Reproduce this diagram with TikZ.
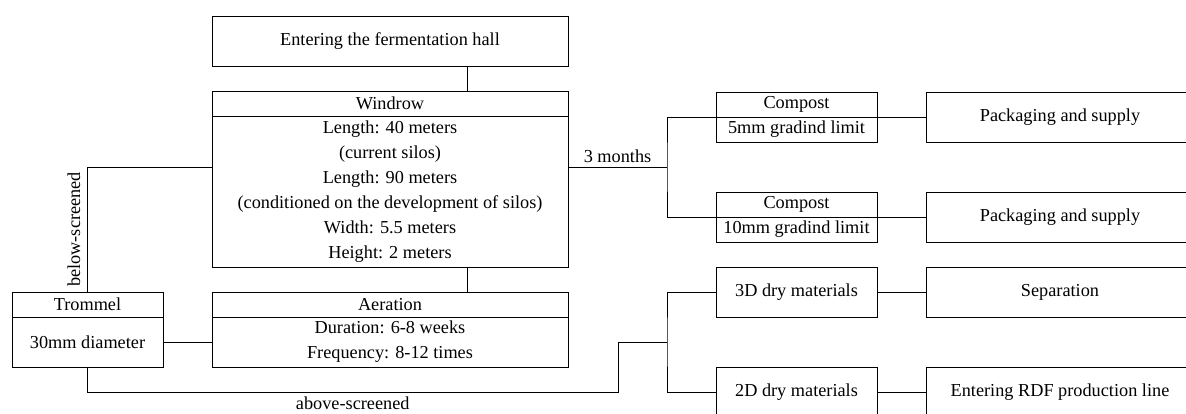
\documentclass[tikz,border=0pt]{standalone}
\usepackage{fontspec}
\setmainfont{Liberation Serif}
\usepackage{tikz}

\begin{document}
\begin{tikzpicture}[x=0.75pt,y=-0.75pt,line width=0.7pt,
        box/.style={draw,inner sep=0pt,outer sep=0pt,align=center,font=\fontsize{13.7}{18.75}\selectfont},
        wide/.style={box,minimum width=267pt},
        mid/.style={box,minimum width=201pt},
        slim/.style={box,minimum width=120.75pt},
        lbl/.style={font=\fontsize{13.7}{18.75}\selectfont,inner sep=3pt}]
        \clip (0,0) rectangle (1186,414); % page = figure size
        % left part
        \node[wide,minimum height=37.5pt] (enter) at (390,41) {Entering the fermentation hall};
        \node[wide,minimum height=18.75pt] (whead) at (390,103.5) {Windrow};
        \node[wide,minimum height=113.25pt] (wbody) at (390,191.5) {Length: 40 meters\\(current silos)\\Length: 90 meters\\(conditioned on the development of silos)\\Width: 5.5 meters\\Height: 2 meters};
        \node[wide,minimum height=18.75pt] (ahead) at (390,304.5) {Aeration};
        \node[wide,minimum height=37.5pt] (abody) at (390,342) {Duration: 6-8 weeks\\Frequency: 8-12 times};
        \node[box,minimum width=113.25pt,minimum height=18.75pt] (thead) at (87.5,304.5) {Trommel};
        \node[box,minimum width=113.25pt,minimum height=37.5pt] (tbody) at (87.5,342) {30mm diameter};
        % right part
        \node[slim,minimum height=18.75pt] (c1head) at (796.5,104.5) {Compost};
        \node[slim,minimum height=18.75pt] (c1body) at (796.5,129.5) {5mm gradind limit};
        \node[slim,minimum height=18.75pt] (c2head) at (796.5,204.5) {Compost};
        \node[slim,minimum height=18.75pt] (c2body) at (796.5,229.5) {10mm gradind limit};
        \node[slim,minimum height=37.5pt] (dry3) at (796.5,292) {3D dry materials};
        \node[slim,minimum height=37.5pt] (dry2) at (796.5,392) {2D dry materials};
        \node[mid,minimum height=37.5pt] (pack1) at (1060,117) {Packaging and supply};
        \node[mid,minimum height=37.5pt] (pack2) at (1060,217) {Packaging and supply};
        \node[mid,minimum height=37.5pt] (sep) at (1060,292) {Separation};
        \node[mid,minimum height=37.5pt] (rdf) at (1060,392) {Entering RDF production line};
        % junctions
        \coordinate (axis) at (467,0);
        \coordinate (jA) at (667,167);
        \coordinate (jB) at (667,342);
        \coordinate (bend) at (618,392);
        % connectors
        \draw (enter.south -| axis) -- (whead.north -| axis);
        \draw (wbody.south -| axis) -- (ahead.north -| axis);
        \draw (tbody.east) -- (abody.west);
        \draw (wbody.west |- jA) -| node[lbl,pos=0.75,rotate=90,anchor=south,inner sep=5pt] {below-screened} (thead.north);
        \draw (tbody.south) |- node[lbl,pos=0.75,below] {above-screened} (bend) |- (jB);
        \draw (wbody.east |- jA) -- node[lbl,above] {3 months} (jA);
        \draw (c1head.south west) -| (jA) |- (c2head.south west);
        \draw (dry3.west) -| (jB) |- (dry2.west);
        \draw (c1head.south east) -- (pack1.west);
        \draw (c2head.south east) -- (pack2.west);
        \draw (dry3.east) -- (sep.west);
        \draw (dry2.east) -- (rdf.west);
    \end{tikzpicture}
\end{document}
